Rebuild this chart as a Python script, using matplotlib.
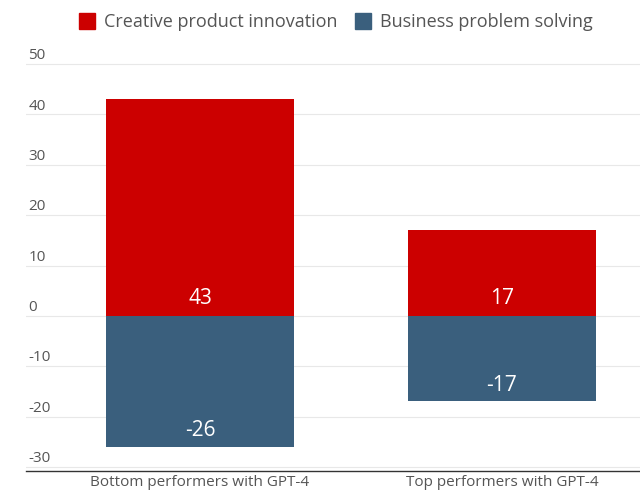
import matplotlib
matplotlib.use("Agg")
import matplotlib.pyplot as plt
from matplotlib.patches import Patch

categories = ["Bottom performers with GPT-4", "Top performers with GPT-4"]
creative = [43, 17]
business = [-26, -17]
series_names = ["Creative product innovation", "Business problem solving"]
yticks = [-30, -20, -10, 0, 10, 20, 30, 40, 50]

RED = "#CC0000"
BLUE = "#3A5F7D"
GRAY = "#555555"

plt.rcParams['font.family'] = ['Open Sans', 'DejaVu Sans']

fig = plt.figure(figsize=(6.4, 4.91), dpi=100)
ax = fig.add_axes([26/640, 1 - 471/491, 614/640, (471 - 55)/491])

x = list(range(len(categories)))
w = 0.62
ax.bar(x, creative, width=w, color=RED, zorder=3)
ax.bar(x, business, width=w, color=BLUE, zorder=3)

for xi, c, b in zip(x, creative, business):
    ax.text(xi, 3.4, f"{c}", ha="center", va="center", color="white", fontsize=15, zorder=4)
    ax.text(xi, b + 3.2, f"{b}", ha="center", va="center", color="white", fontsize=15, zorder=4)

ax.set_xlim(-0.576, 1.457)
ax.set_ylim(-30.8, 51.8)
ax.set_yticks(yticks)
ax.set_yticklabels([])
for t in yticks:
    ax.axhline(t, color="#e8e8e8", lw=0.8, zorder=1)
    ax.text(0.004, t + 0.15, f"{t}", transform=ax.get_yaxis_transform(), ha="left", va="bottom",
            fontsize=11, color=GRAY)
ax.tick_params(axis="y", length=0)
ax.grid(False)
for s in ["top", "right", "left"]:
    ax.spines[s].set_visible(False)
ax.spines["bottom"].set_color("#333333")
ax.spines["bottom"].set_linewidth(1.0)
ax.set_xticks(x)
ax.set_xticklabels(categories, fontsize=11, color=GRAY)
ax.tick_params(axis="x", length=0, pad=3)

handles = [Patch(color=RED), Patch(color=BLUE)]
fig.legend(handles, series_names, loc="center", bbox_to_anchor=(0.525, 1 - 22/491), ncol=2,
           frameon=False, fontsize=13, labelcolor=GRAY, handlelength=0.85, handleheight=0.95,
           handletextpad=0.5, columnspacing=1.0)

fig.savefig("out.png", dpi=100)
